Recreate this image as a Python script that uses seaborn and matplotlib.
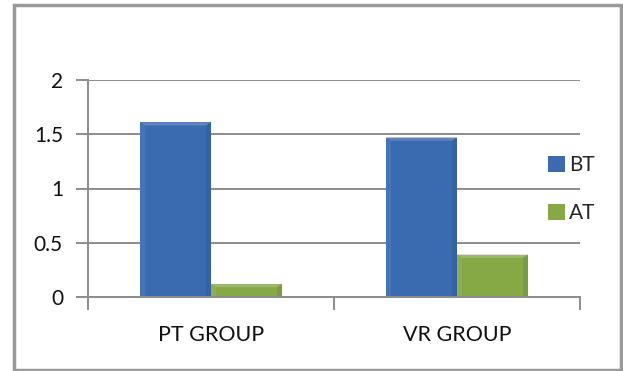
import matplotlib
matplotlib.use("Agg")
import matplotlib.pyplot as plt
from matplotlib.patches import Rectangle, Patch, Polygon
import matplotlib.colors as mcolors
import seaborn as sns
import pandas as pd

# values
groups = ["PT GROUP", "VR GROUP"]
series = ["BT", "AT"]
bt_values = [1.61, 1.47]
at_values = [0.12, 0.39]
y_ticks = [0, 0.5, 1, 1.5, 2]
y_tick_labels = ["0", "0.5", "1", "1.5", "2"]

colors = {"BT": "#3a6bb1", "AT": "#87a945"}

df = pd.DataFrame({
    "group": groups * 2,
    "series": ["BT"] * len(groups) + ["AT"] * len(groups),
    "value": bt_values + at_values,
})

sns.set_theme(style="white")
plt.rcParams["font.family"] = ["Lato", "DejaVu Sans"]

W, H = 623, 371
fig = plt.figure(figsize=(W / 100, H / 100), dpi=100)
ax = fig.add_axes([88 / W, (H - 297) / H, (580 - 88) / W, (297 - 80) / H])

sns.barplot(data=df, x="group", y="value", hue="series", order=groups,
            hue_order=series, palette=colors, width=0.577, gap=0,
            saturation=1, legend=False, ax=ax, edgecolor="none")

ax.set_xlim(-0.5, 1.5)
ax.set_ylim(0, 2)


def shade(c, f):
    r, g, b = mcolors.to_rgb(c)
    if f > 0:
        return (r + (1 - r) * f, g + (1 - g) * f, b + (1 - b) * f)
    return (r * (1 + f), g * (1 + f), b * (1 + f))


# soft bevel on each bar: lighter top, slightly darker sides
bev_x = 0.02
bev_y = 0.03
for p in list(ax.patches):
    x0, y0 = p.get_x(), p.get_y()
    w, h = p.get_width(), p.get_height()
    base = p.get_facecolor()
    by = min(bev_y, h * 0.45)
    x1, y1 = x0 + w, y0 + h
    z = p.get_zorder() + 0.1
    ax.add_patch(Polygon([(x0, y1), (x1, y1), (x1 - bev_x, y1 - by), (x0 + bev_x, y1 - by)],
                         closed=True, facecolor=shade(base, 0.18), edgecolor="none", zorder=z))
    ax.add_patch(Polygon([(x0, y0), (x0, y1), (x0 + bev_x, y1 - by), (x0 + bev_x, y0)],
                         closed=True, facecolor=shade(base, 0.06), edgecolor="none", zorder=z))
    ax.add_patch(Polygon([(x1, y0), (x1, y1), (x1 - bev_x, y1 - by), (x1 - bev_x, y0)],
                         closed=True, facecolor=shade(base, -0.08), edgecolor="none", zorder=z))

ax.set_yticks(y_ticks)
ax.set_yticklabels(y_tick_labels)
ax.set_xlabel("")
ax.set_ylabel("")

grid_c = "#8c8c8c"
ax.yaxis.grid(True, color=grid_c, linewidth=1.4)
ax.set_axisbelow(True)
for s in ["top", "right"]:
    ax.spines[s].set_visible(False)
for s in ["left", "bottom"]:
    ax.spines[s].set_color(grid_c)
    ax.spines[s].set_linewidth(1.4)

ax.tick_params(axis="y", direction="out", length=9, width=1.4, color=grid_c,
               labelsize=15, labelcolor="#111111", pad=9, left=True)
ax.set_xticks([-0.5, 0.5, 1.5], minor=True)
ax.tick_params(axis="x", which="minor", direction="out", length=9, width=1.4,
               color=grid_c, bottom=True)
ax.tick_params(axis="x", which="major", length=0, labelsize=15.5,
               labelcolor="#111111", pad=20)

handles = [Patch(facecolor=colors[s], edgecolor="none", label=s) for s in series]
fig.legend(handles=handles, loc="center left",
           bbox_to_anchor=(538 / W, 1 - 189 / H), frameon=False,
           fontsize=15, handlelength=0.8, handleheight=0.8,
           handletextpad=0.2, labelspacing=1.35, borderpad=0)

fig.patches.append(Rectangle((14 / W, 1 / H), (621 - 14) / W, (366 - 1) / H,
                             transform=fig.transFigure, fill=False,
                             edgecolor="#999999", linewidth=2.5))

fig.savefig("out.png", dpi=100)
